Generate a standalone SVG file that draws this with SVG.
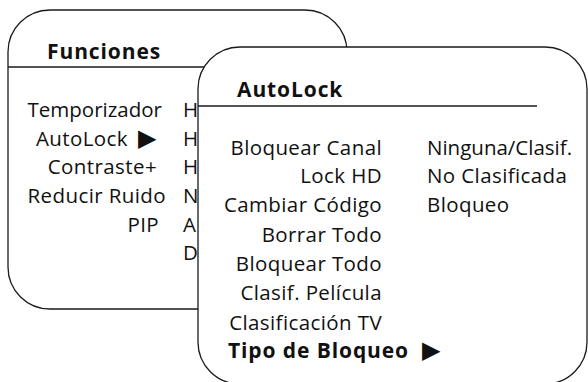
<svg xmlns="http://www.w3.org/2000/svg" width="588" height="382" viewBox="0 0 588 382">
<style>
.box{fill:#fff;stroke:#1a1a1a;stroke-width:1.3}
.rule{stroke:#1a1a1a;stroke-width:1.3}
text{font-family:"Open Sans","Liberation Sans",Arial,sans-serif;font-size:20.5px;letter-spacing:0.4px;fill:#111}
.h{font-weight:bold;font-size:21px;letter-spacing:0.9px}
.e{text-anchor:end}
.ar{font-family:"DejaVu Sans",sans-serif;font-size:24px;letter-spacing:0}
</style>
<rect width="588" height="382" fill="#fff"/>
<g id="funciones">
<rect class="box" x="8" y="10" width="339" height="299" rx="42" ry="42"/>
<line class="rule" x1="8" y1="67" x2="347" y2="67"/>
<text class="h" x="47" y="59">Funciones</text>
<text class="e" x="162" y="117" style="letter-spacing:0">Temporizador</text>
<text class="e" x="128" y="146">AutoLock</text>
<text class="ar" x="138" y="146">▶</text>
<text class="e" x="157" y="174">Contraste+</text>
<text class="e" x="166" y="203">Reducir Ruido</text>
<text class="e" x="159" y="232">PIP</text>
<text x="183" y="117">H</text>
<text x="183" y="146">H</text>
<text x="183" y="174">H</text>
<text x="183" y="203">N</text>
<text x="183" y="232">A</text>
<text x="183" y="260">D</text>
</g>
<g id="autolock">
<rect class="box" x="198" y="47" width="389" height="337" rx="42" ry="42"/>
<line class="rule" x1="198" y1="106" x2="537" y2="106"/>
<text class="h" x="237" y="97">AutoLock</text>
<text class="e" x="382" y="155">Bloquear Canal</text>
<text class="e" x="382" y="183">Lock HD</text>
<text class="e" x="382" y="212">Cambiar Código</text>
<text class="e" x="382" y="242">Borrar Todo</text>
<text class="e" x="382" y="271">Bloquear Todo</text>
<text class="e" x="382" y="300">Clasif. Película</text>
<text class="e" x="382" y="330">Clasificación TV</text>
<text class="h" x="228" y="358">Tipo de Bloqueo</text>
<text class="ar" x="422" y="358">▶</text>
<text x="427" y="155" style="letter-spacing:0">Ninguna/Clasif.</text>
<text x="427" y="183">No Clasificada</text>
<text x="427" y="212">Bloqueo</text>
</g>
<g id="connectors"/>
</svg>
